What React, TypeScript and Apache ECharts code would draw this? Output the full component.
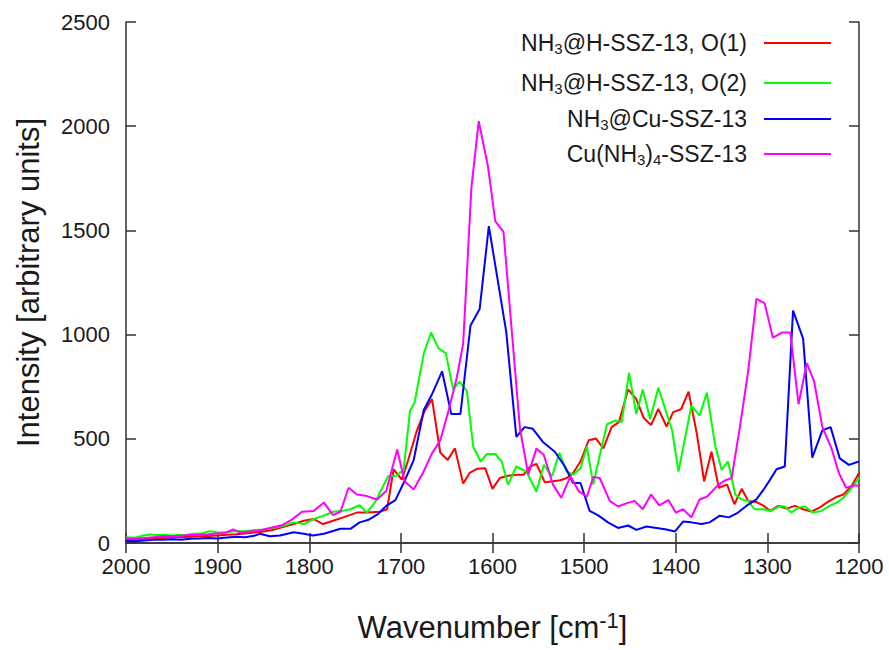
import React, { useEffect, useRef } from "react";
import * as echarts from "echarts";

const FONT = '"Liberation Sans", Arial, Helvetica, sans-serif';

// [wavenumber (cm^-1), intensity]
const o1Data: number[][] = [
  [2000, 18], [1990, 16], [1980, 20], [1970, 22], [1960, 24], [1950, 26], [1940, 28], [1930, 30],
  [1920, 32], [1910, 33], [1900, 36], [1890, 40], [1880, 42], [1870, 46], [1860, 50], [1850, 55],
  [1840, 62], [1830, 75], [1817, 91], [1806, 107], [1795, 115], [1785, 91], [1774, 107], [1763, 123],
  [1748, 146], [1737, 146], [1723, 150], [1715, 162], [1708, 354], [1699, 304], [1692, 398], [1683, 533],
  [1674, 635], [1666, 690], [1657, 433], [1649, 398], [1641, 454], [1632, 285], [1625, 336], [1617, 356],
  [1608, 359], [1600, 260], [1592, 312], [1583, 323], [1574, 328], [1566, 328], [1559, 367], [1552, 380],
  [1543, 292], [1534, 296], [1526, 301], [1519, 312], [1512, 336], [1504, 391], [1495, 493], [1487, 501],
  [1479, 454], [1470, 556], [1462, 580], [1452, 737], [1443, 690], [1435, 600], [1427, 566], [1419, 643],
  [1410, 559], [1403, 627], [1394, 643], [1386, 726], [1377, 525], [1369, 296], [1361, 438], [1353, 265],
  [1344, 280], [1336, 186], [1328, 260], [1321, 202], [1312, 197], [1304, 178], [1297, 154], [1288, 178],
  [1279, 165], [1270, 178], [1261, 162], [1252, 151], [1243, 170], [1234, 197], [1224, 222], [1217, 233],
  [1208, 273], [1200, 336],
];

const o2Data: number[][] = [
  [2000, 28], [1990, 25], [1982, 35], [1974, 41], [1966, 38], [1958, 40], [1950, 36], [1942, 38],
  [1934, 40], [1926, 44], [1918, 45], [1908, 57], [1900, 50], [1890, 52], [1880, 58], [1870, 56],
  [1860, 62], [1850, 65], [1840, 72], [1830, 80], [1817, 99], [1806, 91], [1795, 115], [1785, 130],
  [1774, 150], [1763, 155], [1755, 162], [1745, 181], [1737, 146], [1728, 197], [1714, 320], [1705, 323],
  [1697, 351], [1690, 635], [1685, 674], [1675, 910], [1667, 1010], [1659, 934], [1651, 911], [1643, 737],
  [1636, 774], [1628, 729], [1621, 462], [1613, 391], [1606, 427], [1597, 427], [1590, 391], [1583, 280],
  [1574, 367], [1563, 343], [1552, 246], [1544, 375], [1535, 320], [1527, 433], [1519, 343], [1512, 328],
  [1504, 359], [1497, 462], [1490, 280], [1483, 420], [1475, 570], [1466, 587], [1459, 580], [1451, 816],
  [1443, 619], [1436, 737], [1428, 595], [1419, 745], [1412, 651], [1404, 540], [1397, 343], [1390, 501],
  [1383, 658], [1374, 611], [1366, 722], [1357, 469], [1350, 351], [1343, 391], [1335, 233], [1328, 209],
  [1321, 202], [1314, 162], [1304, 162], [1296, 154], [1286, 178], [1281, 175], [1274, 146], [1266, 170],
  [1259, 175], [1250, 146], [1241, 154], [1232, 178], [1223, 197], [1215, 225], [1208, 265], [1200, 312],
];

const cuData: number[][] = [
  [2000, 10], [1990, 8], [1980, 12], [1970, 15], [1960, 15], [1950, 18], [1940, 16], [1930, 20],
  [1920, 22], [1910, 24], [1900, 22], [1890, 26], [1880, 30], [1870, 28], [1860, 35], [1854, 44],
  [1843, 32], [1832, 36], [1817, 52], [1806, 44], [1796, 36], [1784, 44], [1766, 68], [1755, 68],
  [1745, 99], [1736, 110], [1725, 139], [1716, 178], [1706, 206], [1697, 288], [1686, 398], [1675, 638],
  [1666, 714], [1655, 824], [1645, 619], [1635, 619], [1624, 1044], [1614, 1123], [1604, 1520], [1585, 1013],
  [1574, 509], [1565, 556], [1556, 548], [1545, 485], [1532, 438], [1521, 367], [1512, 288], [1504, 288],
  [1494, 154], [1485, 134], [1474, 99], [1463, 72], [1452, 84], [1443, 63], [1432, 79], [1421, 72],
  [1410, 65], [1401, 55], [1392, 103], [1383, 99], [1372, 91], [1363, 99], [1352, 131], [1342, 123],
  [1332, 146], [1323, 178], [1312, 209], [1304, 257], [1297, 304], [1290, 354], [1281, 367], [1272, 1115],
  [1261, 981], [1251, 410], [1240, 540], [1231, 556], [1221, 406], [1211, 375], [1200, 391],
];

const cuNh34Data: number[][] = [
  [2000, 22], [1990, 20], [1980, 24], [1970, 28], [1960, 32], [1950, 32], [1940, 35], [1930, 38],
  [1920, 40], [1910, 42], [1900, 45], [1890, 52], [1883, 65], [1875, 50], [1865, 55], [1854, 60],
  [1843, 72], [1830, 85], [1819, 112], [1808, 150], [1795, 154], [1784, 194], [1774, 134], [1766, 150],
  [1757, 265], [1748, 233], [1737, 225], [1726, 209], [1716, 249], [1704, 449], [1696, 296], [1686, 257],
  [1676, 336], [1666, 430], [1657, 493], [1648, 635], [1639, 793], [1632, 958], [1623, 1706], [1615, 2024],
  [1605, 1808], [1597, 1545], [1588, 1493], [1570, 548], [1561, 328], [1552, 454], [1544, 422], [1534, 280],
  [1525, 217], [1515, 320], [1506, 249], [1497, 222], [1490, 317], [1483, 312], [1472, 202], [1463, 175],
  [1454, 190], [1445, 202], [1436, 162], [1427, 233], [1418, 181], [1408, 206], [1400, 146], [1392, 162],
  [1383, 123], [1374, 209], [1366, 222], [1355, 273], [1347, 299], [1339, 312], [1330, 556], [1321, 824],
  [1312, 1171], [1303, 1151], [1294, 985], [1284, 1010], [1275, 1010], [1266, 666], [1257, 863], [1249, 776],
  [1240, 556], [1230, 454], [1222, 336], [1214, 265], [1206, 276], [1200, 276],
];

const SERIES_NAMES = [
  "NH3@H-SSZ-13, O(1)",
  "NH3@H-SSZ-13, O(2)",
  "NH3@Cu-SSZ-13",
  "Cu(NH3)4-SSZ-13",
];
const SERIES_LABELS = [
  "NH{sub|3}@H-SSZ-13, O(1)",
  "NH{sub|3}@H-SSZ-13, O(2)",
  "NH{sub|3}@Cu-SSZ-13",
  "Cu(NH{sub|3}){sub|4}-SSZ-13",
];
const SERIES_DATA = [o1Data, o2Data, cuData, cuNh34Data];
const SERIES_COLORS = ["#ff0000", "#00ff00", "#0000ff", "#ff00ff"];
const LEGEND_TOPS = [30, 70, 106, 141];

const AXIS_COLOR = "#333333";
const TEXT_COLOR = "#1a1a1a";

export default function App() {
  const ref = useRef<HTMLDivElement>(null);

  useEffect(() => {
    if (!ref.current) return;
    const chart = echarts.init(ref.current, null, { renderer: "svg" });

    const axisLine = { show: true, lineStyle: { color: AXIS_COLOR, width: 1.5 } };
    const axisTick = { show: true, inside: true, length: 10, lineStyle: { color: AXIS_COLOR, width: 1.5 } };
    const plain = (v: number) => String(v);

    const option: any = {
      animation: false,
      backgroundColor: "#ffffff",
      grid: { left: 126, right: 30, top: 22, bottom: 99 },
      xAxis: [
        {
          type: "value",
          min: 1200,
          max: 2000,
          interval: 100,
          inverse: true,
          position: "bottom",
          axisLine,
          axisTick,
          splitLine: { show: false },
          axisLabel: { color: TEXT_COLOR, fontSize: 22, fontFamily: FONT, margin: 12, formatter: plain },
          name: "Wavenumber [cm{sup|-1}]",
          nameLocation: "middle",
          nameGap: 66,
          nameTextStyle: {
            color: TEXT_COLOR,
            fontSize: 31,
            fontFamily: FONT,
            lineHeight: 36,
            rich: {
              sup: { fontSize: 22, lineHeight: 28, verticalAlign: "top", fontFamily: FONT, color: TEXT_COLOR },
            },
          },
        },
        {
          type: "value",
          min: 1200,
          max: 2000,
          interval: 100,
          inverse: true,
          position: "top",
          axisLine,
          axisTick,
          splitLine: { show: false },
          axisLabel: { show: false },
        },
      ],
      yAxis: [
        {
          type: "value",
          min: 0,
          max: 2500,
          interval: 500,
          position: "left",
          axisLine,
          axisTick,
          splitLine: { show: false },
          axisLabel: { color: TEXT_COLOR, fontSize: 22, fontFamily: FONT, margin: 16, formatter: plain },
          name: "Intensity [arbitrary units]",
          nameLocation: "middle",
          nameGap: 82,
          nameTextStyle: { color: TEXT_COLOR, fontSize: 31, fontFamily: FONT },
        },
        {
          type: "value",
          min: 0,
          max: 2500,
          interval: 500,
          position: "right",
          axisLine,
          axisTick,
          splitLine: { show: false },
          axisLabel: { show: false },
        },
      ],
      legend: SERIES_NAMES.map((name, i) => ({
        data: [name],
        right: 58,
        top: LEGEND_TOPS[i],
        orient: "vertical",
        align: "right",
        padding: 0,
        itemWidth: 67,
        itemHeight: 2,
        icon: "rect",
        selectedMode: false,
        formatter: () => SERIES_LABELS[i],
        textStyle: {
          color: TEXT_COLOR,
          fontSize: 23,
          fontFamily: FONT,
          lineHeight: 26,
          padding: [0, 12, 0, 0],
          rich: {
            sub: { fontSize: 15, lineHeight: 10, verticalAlign: "bottom", fontFamily: FONT, color: TEXT_COLOR },
          },
        },
      })),
      series: SERIES_NAMES.map((name, i) => ({
        name,
        type: "line",
        data: SERIES_DATA[i],
        showSymbol: false,
        symbol: "none",
        color: SERIES_COLORS[i],
        lineStyle: { color: SERIES_COLORS[i], width: 2 },
        xAxisIndex: 0,
        yAxisIndex: 0,
        z: 2 + i,
      })),
    };

    chart.setOption(option);
    return () => chart.dispose();
  }, []);

  return (
    <div
      ref={ref}
      style={{ position: "fixed", left: 0, top: 0, width: 889, height: 650, background: "#fff" }}
    />
  );
}
